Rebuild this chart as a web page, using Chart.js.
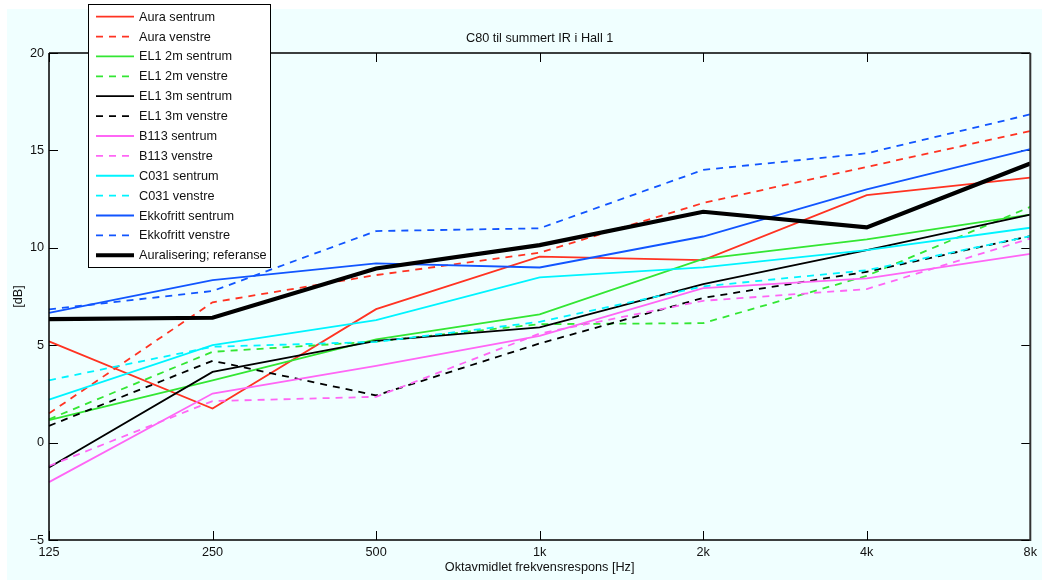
<!DOCTYPE html>
<html>
<head>
<meta charset="utf-8">
<script src="https://cdn.jsdelivr.net/npm/chart.js@4.4.1/dist/chart.umd.min.js"></script>
<style>
  html, body { margin: 0; padding: 0; background: #ffffff; }
  #wrap { width: 1042px; height: 580px; }
</style>
</head>
<body>
<div id="wrap"><canvas id="chart" width="1042" height="580"></canvas></div>
<script>
// Octave bands (x axis) and C80 values in dB
const bands = ['125', '250', '500', '1k', '2k', '4k', '8k'];

const auraSentrum  = [5.2, 1.75, 6.85, 9.55, 9.37, 12.7, 13.6];
const auraVenstre  = [1.5, 7.2, 8.6, 9.75, 12.3, 14.15, 16.0];
const el12Sentrum  = [1.15, 3.2, 5.3, 6.58, 9.43, 10.43, 11.7];
const el12Venstre  = [1.2, 4.66, 5.19, 6.08, 6.13, 8.56, 12.1];
const el13Sentrum  = [-1.28, 3.63, 5.22, 5.91, 8.13, 9.88, 11.7];
const el13Venstre  = [0.86, 4.2, 2.42, 5.09, 7.43, 8.77, 10.6];
const b113Sentrum  = [-2.03, 2.52, 3.94, 5.48, 7.93, 8.43, 9.69];
const b113Venstre  = [-1.2, 2.13, 2.35, 5.6, 7.28, 7.88, 10.48];
const c031Sentrum  = [2.21, 5.0, 6.29, 8.48, 9.0, 9.88, 11.03];
const c031Venstre  = [3.2, 4.92, 5.17, 6.2, 8.02, 8.85, 10.6];
const ekkoSentrum  = [6.66, 8.34, 9.2, 8.99, 10.58, 13.0, 15.07];
const ekkoVenstre  = [6.84, 7.78, 10.86, 11.0, 14.0, 14.85, 16.85];
const auralisering = [6.34, 6.41, 8.94, 10.14, 11.85, 11.05, 14.33];

const yTicks = [-5, 0, 5, 10, 15, 20];

const FONT = '"Liberation Sans", Arial, Helvetica, sans-serif';
const FSIZE = 12.7;
const TEXT = '#111';
const DASH = [7, 6];

const RED = '#ff3322', GREEN = '#33e633', BLACK = '#000000',
      MAGENTA = '#ff66f5', CYAN = '#00f4ff', BLUE = '#1155ff';

function series(label, data, color, dashed, width) {
  return {
    label: label,
    data: data,
    borderColor: color,
    backgroundColor: color,
    borderWidth: width || 1.8,
    borderDash: dashed ? DASH : [],
    pointRadius: 0,
    tension: 0,
    fill: false
  };
}

const datasets = [
  series('Aura sentrum', auraSentrum, RED, false),
  series('Aura venstre', auraVenstre, RED, true),
  series('EL1 2m sentrum', el12Sentrum, GREEN, false),
  series('EL1 2m venstre', el12Venstre, GREEN, true),
  series('EL1 3m sentrum', el13Sentrum, BLACK, false),
  series('EL1 3m venstre', el13Venstre, BLACK, true),
  series('B113 sentrum', b113Sentrum, MAGENTA, false),
  series('B113 venstre', b113Venstre, MAGENTA, true),
  series('C031 sentrum', c031Sentrum, CYAN, false),
  series('C031 venstre', c031Venstre, CYAN, true),
  series('Ekkofritt sentrum', ekkoSentrum, BLUE, false),
  series('Ekkofritt venstre', ekkoVenstre, BLUE, true),
  series('Auralisering; referanse', auralisering, BLACK, false, 4.2)
];
// later series drawn on top, like the original
datasets.forEach((d, i) => { d.order = datasets.length - i; });

// figure background, title, box and inward ticks
const frame = {
  id: 'frame',
  beforeDraw(chart) {
    const ctx = chart.ctx;
    ctx.save();
    ctx.fillStyle = '#ffffff';
    ctx.fillRect(0, 0, chart.width, chart.height);
    ctx.fillStyle = '#f0ffff';
    ctx.fillRect(7, 9, chart.width - 7, chart.height - 9);
    ctx.restore();
  },
  beforeDatasetsDraw(chart) {
    const { ctx, chartArea: a, scales } = chart;
    const tl = 9;
    ctx.save();
    ctx.strokeStyle = '#000';
    ctx.lineWidth = 1;
    ctx.beginPath();
    scales.x.ticks.forEach((t, i) => {
      const px = Math.round(scales.x.getPixelForTick(i)) + 0.5;
      ctx.moveTo(px, a.bottom); ctx.lineTo(px, a.bottom - tl);
      ctx.moveTo(px, a.top); ctx.lineTo(px, a.top + tl);
    });
    scales.y.ticks.forEach(t => {
      const py = Math.round(scales.y.getPixelForValue(t.value)) + 0.5;
      ctx.moveTo(a.left, py); ctx.lineTo(a.left + tl, py);
      ctx.moveTo(a.right, py); ctx.lineTo(a.right - tl, py);
    });
    ctx.stroke();
    ctx.restore();
  },
  afterDatasetsDraw(chart) {
    const { ctx, chartArea: a } = chart;
    ctx.save();
    ctx.strokeStyle = '#000';
    ctx.lineWidth = 1.5;
    ctx.beginPath();
    ctx.moveTo(a.left, a.top); ctx.lineTo(a.right, a.top);
    ctx.moveTo(a.left, a.top); ctx.lineTo(a.left, a.bottom);
    ctx.lineTo(a.right, a.bottom);
    ctx.stroke();
    ctx.strokeStyle = '#333';
    ctx.lineWidth = 2;
    ctx.beginPath();
    ctx.moveTo(a.right, a.top); ctx.lineTo(a.right, a.bottom + 1);
    ctx.stroke();

    ctx.fillStyle = TEXT;
    ctx.font = FSIZE + 'px ' + FONT;
    ctx.textAlign = 'center';
    ctx.textBaseline = 'middle';
    ctx.fillText('C80 til summert IR i Hall 1', (a.left + a.right) / 2, 38);
    ctx.restore();
  },
  afterDraw(chart) {
    // MATLAB-style legend box over the plot
    const ctx = chart.ctx;
    const x0 = 88, y0 = 4, w = 182, h = 263, row = 19.88;
    ctx.save();
    ctx.fillStyle = '#ffffff';
    ctx.fillRect(x0, y0, w, h);
    ctx.strokeStyle = '#000';
    ctx.lineWidth = 1;
    ctx.strokeRect(x0 + 0.5, y0 + 0.5, w, h);
    ctx.font = FSIZE + 'px ' + FONT;
    ctx.textAlign = 'left';
    ctx.textBaseline = 'middle';
    chart.data.datasets.forEach((d, i) => {
      const y = 16.7 + i * row;
      ctx.strokeStyle = d.borderColor;
      ctx.lineWidth = d.borderWidth;
      ctx.setLineDash(d.borderDash);
      ctx.beginPath();
      ctx.moveTo(96, y); ctx.lineTo(134, y);
      ctx.stroke();
      ctx.setLineDash([]);
      ctx.fillStyle = TEXT;
      ctx.fillText(d.label, 139, y + 0.5);
    });
    ctx.restore();
  }
};

new Chart(document.getElementById('chart'), {
  type: 'line',
  data: { labels: bands, datasets: datasets },
  options: {
    responsive: false,
    devicePixelRatio: 1,
    animation: false,
    layout: { padding: { top: 53, right: 10, left: 0, bottom: 0 } },
    plugins: {
      legend: { display: false },
      tooltip: { enabled: false },
      title: { display: false }
    },
    scales: {
      x: {
        type: 'category',
        offset: false,
        grid: { display: false, drawTicks: false },
        border: { display: false },
        ticks: {
          color: TEXT,
          font: { family: FONT, size: FSIZE },
          padding: 5,
          maxRotation: 0,
          autoSkip: false
        },
        title: {
          display: true,
          text: 'Oktavmidlet frekvensrespons [Hz]',
          color: TEXT,
          font: { family: FONT, size: FSIZE },
          padding: { top: 0, bottom: 5 }
        },
        afterFit(scale) { scale.height = 40; }
      },
      y: {
        min: -5,
        max: 20,
        grid: { display: false, drawTicks: false },
        border: { display: false },
        afterBuildTicks(scale) {
          scale.ticks = yTicks.map(v => ({ value: v }));
        },
        ticks: {
          color: TEXT,
          font: { family: FONT, size: FSIZE },
          padding: 5,
          callback: v => (v < 0 ? '\u2212' + Math.abs(v) : String(v))
        },
        title: {
          display: true,
          text: '[dB]',
          color: TEXT,
          font: { family: FONT, size: FSIZE },
          padding: { top: 11, bottom: 0 }
        },
        afterFit(scale) { scale.width = 49; }
      }
    }
  },
  plugins: [frame]
});
</script>
</body>
</html>
